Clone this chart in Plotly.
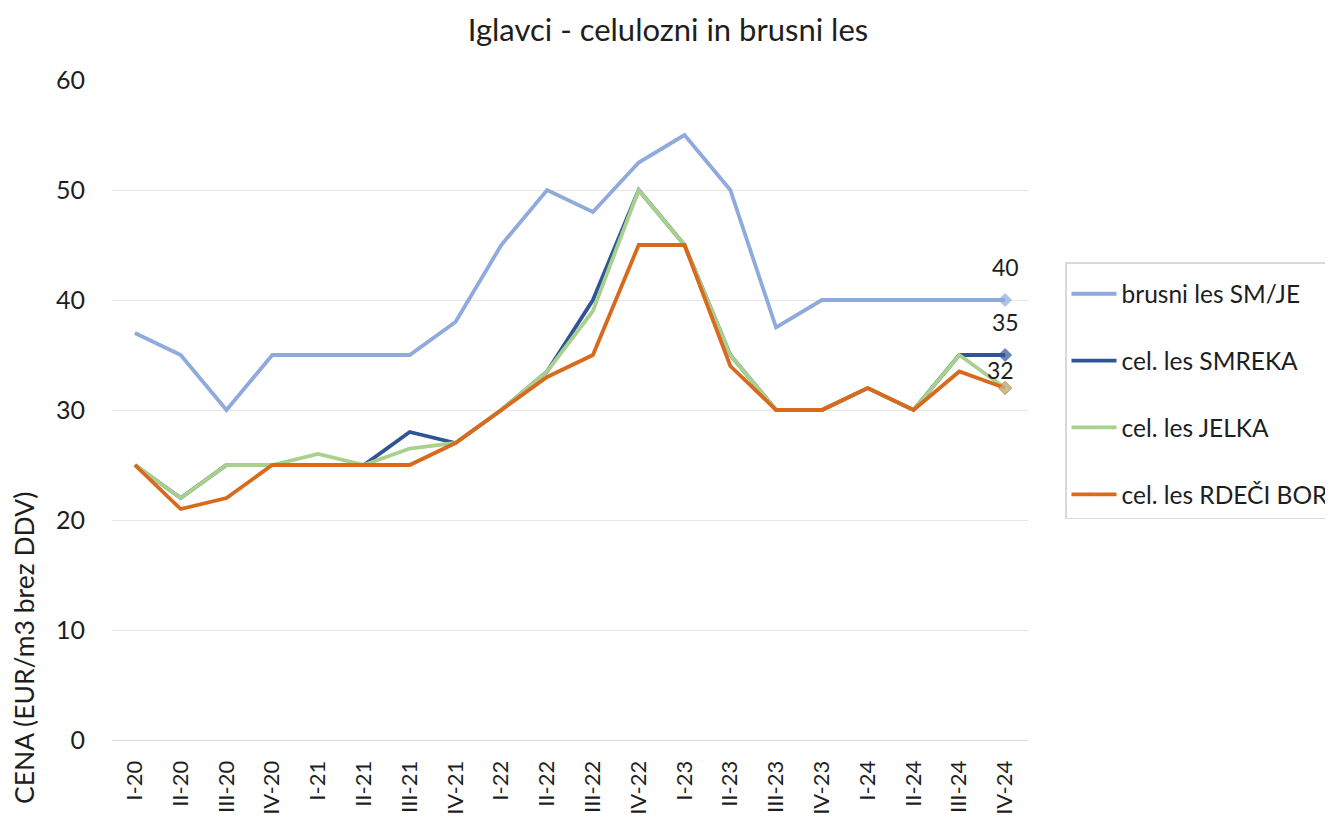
import plotly.graph_objects as go

categories = ["I-20", "II-20", "III-20", "IV-20", "I-21", "II-21", "III-21", "IV-21",
              "I-22", "II-22", "III-22", "IV-22", "I-23", "II-23", "III-23", "IV-23",
              "I-24", "II-24", "III-24", "IV-24"]

brusni = [37, 35, 30, 35, 35, 35, 35, 38, 45, 50, 48, 52.5, 55, 50, 37.5, 40, 40, 40, 40, 40]
smreka = [25, 22, 25, 25, 25, 25, 28, 27, 30, 33.5, 40, 50, 45, 35, 30, 30, 32, 30, 35, 35]
jelka = [25, 22, 25, 25, 26, 25, 26.5, 27, 30, 33.5, 39, 50, 45, 35, 30, 30, 32, 30, 35, 32]
bor = [25, 21, 22, 25, 25, 25, 25, 27, 30, 33, 35, 45, 45, 34, 30, 30, 32, 30, 33.5, 32]

names = ["brusni les SM/JE", "cel. les SMREKA", "cel. les JELKA", "cel. les RDEČI BOR"]
colors = ["#8FAADC", "#2F5597", "#A9D18E", "#D9691C"]
series = [brusni, smreka, jelka, bor]

FONT = "Lato, Carlito, Calibri, sans-serif"
TXT = "#1E1E1E"

# page body has an 8px margin; plot area in page pixels: x 112..1028, y 80..740
OFF = 8
PL, PR, PT, PB = 112, 1028, 80, 740
W, H = 1333, 816

def px_x(v):
    return (v - PL) / (PR - PL)

def px_y(v):
    return (PB - v) / (PB - PT)

fig = go.Figure()
n = len(categories)
for i, (name, col, vals) in enumerate(zip(names, colors, series)):
    sizes = [0] * (n - 1) + [10]
    mcol = col
    lcol = col
    if i == 3:
        mcol = "#C5B88A"
        lcol = "#D9691C"
    fig.add_trace(go.Scatter(
        x=categories, y=vals, name=name, mode="lines+markers",
        line=dict(color=col, width=3.8),
        marker=dict(symbol="diamond", size=sizes, color=mcol, line=dict(color=lcol, width=1)),
        legendgroup=name,
    ))

# data labels on last points
label_series = [brusni, smreka, jelka]
shifts = [33, 33, 18]
xshift = [0, 0, -5]
for vals, ys, xs in zip(label_series, shifts, xshift):
    fig.add_annotation(x=categories[-1], y=vals[-1], text=f"{vals[-1]:g}",
                       showarrow=False, yshift=ys, xshift=xs,
                       font=dict(family=FONT, size=23, color=TXT))

fig.add_annotation(xref="paper", yref="paper", x=px_x(24), y=px_y(648),
                   xanchor="center", yanchor="middle",
                   text="CENA (EUR/m3 brez DDV)", textangle=-90, showarrow=False,
                   font=dict(family=FONT, size=26.5, color=TXT))

fig.update_layout(
    width=W, height=H,
    margin=dict(l=PL - OFF, r=W + OFF - PR, t=PT - OFF, b=H + OFF - PB, autoexpand=False),
    paper_bgcolor="white", plot_bgcolor="white",
    title=dict(text="Iglavci - celulozni in brusni les", x=(668 - OFF) / W, xanchor="center",
               y=1 - (30 - OFF) / H, yanchor="middle",
               font=dict(family=FONT, size=31, color=TXT)),
    font=dict(family=FONT, color=TXT),
    legend=dict(x=px_x(1065), y=px_y(262), xanchor="left", yanchor="top",
                bordercolor="#D9D9D9", borderwidth=1.5, bgcolor="white",
                font=dict(family=FONT, size=24.5, color=TXT),
                title=dict(text=" ", font=dict(size=6)),
                tracegroupgap=32, itemwidth=45),
    showlegend=True,
)
fig.update_xaxes(type="category", range=[-0.5, n - 0.5], tickangle=-90,
                 tickfont=dict(family=FONT, size=22, color=TXT),
                 showgrid=False, showline=True, linecolor="#D9D9D9", linewidth=1,
                 ticks="", ticklabelstandoff=11)
fig.update_yaxes(range=[0, 60], dtick=10, showgrid=True, gridcolor="#E6E6E6", gridwidth=1,
                 zeroline=False, showline=False,
                 tickfont=dict(family=FONT, size=25, color=TXT), ticklabelstandoff=26)

fig.write_html("out.html")
